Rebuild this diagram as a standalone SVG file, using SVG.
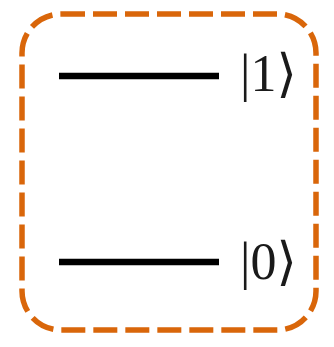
<svg xmlns="http://www.w3.org/2000/svg" width="334" height="347" viewBox="0 0 334 347">
<style>
.box{fill:none;stroke:#d9660a;stroke-width:5.5;stroke-dasharray:24 8}
.lvl{stroke:#000;stroke-width:6.5}
.lbl{font-family:"Liberation Serif","DejaVu Serif",serif;font-size:52px;fill:#1a1a1a}
</style>
<g id="box"><rect class="box" x="22" y="14" width="294" height="316" rx="39" ry="39"/></g>
<g id="level1"><line class="lvl" x1="59" y1="76" x2="219" y2="76"/><text class="lbl" x="240" y="91">|1⟩</text></g>
<g id="level0"><line class="lvl" x1="59" y1="262" x2="219" y2="262"/><text class="lbl" x="240" y="279">|0⟩</text></g>
<g id="connectors"/>
</svg>
